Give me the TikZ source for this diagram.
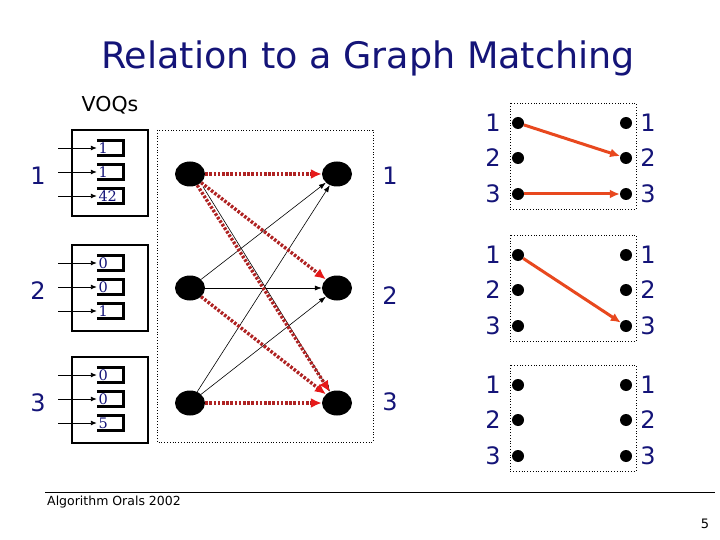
\documentclass[tikz,border=0pt]{standalone}
\usepackage{xcolor}
\usepackage{fontspec}
\setmainfont{DejaVu Sans}
\newfontfamily\qfont{DejaVu Serif}
\usepackage{tikz}
\usetikzlibrary{shapes,arrows,arrows.meta,positioning,calc,fit}
\definecolor{navy}{RGB}{20,20,120}
\definecolor{reqred}{RGB}{175,35,35}
\definecolor{tipred}{RGB}{230,25,25}
\definecolor{pickorange}{RGB}{232,72,30}

\begin{document}
\begin{tikzpicture}[x=1pt, y=-1pt,
    voq/.style={rectangle, draw, line width=2.6pt, minimum width=76pt, minimum height=86pt, inner sep=0pt},
    queue/.style={rectangle, minimum width=26pt, minimum height=15pt, inner sep=1.5pt, text width=23pt, align=left, text=navy, font=\qfont\fontsize{14.5}{14.5}\selectfont},
    qline/.style={line width=2.6pt},
    feed/.style={line width=0.9pt, -{Latex[length=6pt,width=5pt]}},
    port/.style={inner sep=0pt, text=navy, font=\fontsize{24}{24}\selectfont},
    vert/.style={ellipse, fill=black, minimum width=30pt, minimum height=25pt, inner sep=0pt},
    link/.style={line width=0.6pt, -{Latex[length=7pt,width=5pt]}},
    req/.style={reqred, line width=3.4pt, dash pattern=on 2.6pt off 1.6pt, -{Latex[length=11pt,width=10pt,color=tipred]}},
    dot/.style={circle, fill=black, minimum size=12pt, inner sep=0pt},
    pick/.style={pickorange, line width=3pt, -{Latex[length=10pt,width=9pt]}},
    frame/.style={dotted, line width=0.8pt}
]
    \useasboundingbox (0,0) rectangle (720,540);

    \node[text=navy, font=\fontsize{36.5}{36.5}\selectfont] (title) at (368,58) {Relation to a Graph Matching};
    \node[font=\fontsize{20.5}{20.5}\selectfont] (voqs) at (110,105) {VOQs};

    % input ports with their virtual output queues
    \foreach \i/\y/\a/\b/\c in {1/173/1/1/42, 2/288/0/0/1, 3/400/0/0/5} {
        \node[voq] (in\i) at (110,\y) {};
        \node[queue] (q\i1) at (110,\y-25) {\a};
        \node[queue] (q\i2) at (110,\y-1) {\b};
        \node[queue] (q\i3) at (110,\y+23) {\c};
        \node[port] (p\i) at (38,\y+3) {\i};
        \foreach \k in {1,2,3} {
            \draw[qline] (q\i\k.north west) -- (q\i\k.north east) -- (q\i\k.south east) -- (q\i\k.south west);
            \coordinate (a\i\k) at (58,\y-49+24*\k);
            \draw[feed] (a\i\k) -- (q\i\k.west |- a\i\k);
        }
    }

    % bipartite request graph
    \draw[frame] (157,130) rectangle (373,442);
    \node[vert] (l1) at (190,174) {};
    \node[vert] (l2) at (190,288) {};
    \node[vert] (l3) at (190,403) {};
    \node[vert] (r1) at (337,174) {};
    \node[vert] (r2) at (337,288) {};
    \node[vert] (r3) at (337,403) {};
    \node[port] (o1) at (390,176) {1};
    \node[port] (o2) at (390,296) {2};
    \node[port] (o3) at (390,402) {3};

    \draw[link] ([xshift=13pt]l1.south) -- (r3);
    \draw[link] (l2) -- (r1);
    \draw[link] (l2) -- (r2);
    \draw[link] (l3) -- (r1);
    \draw[link] (l3) -- (r2);
    \draw[req] (l1) -- (r1);
    \draw[req] (l1) -- (r2);
    \draw[req] (l1) -- (r3);
    \draw[req] (l2) -- (r3);
    \draw[req] (l3) -- (r3);

    % matchings
    \foreach \g/\t in {1/103, 2/235, 3/365} {
        \draw[frame] (510,\t) rectangle (636,\t+106);
        \foreach \k/\o in {1/20, 2/55, 3/91} {
            \node[dot] (g\g-l\k) at (518,\t+\o) {};
            \node[dot] (g\g-r\k) at (626,\t+\o) {};
            \node[port] (g\g-a\k) at (493,\t+\o) {\k};
            \node[port] (g\g-b\k) at (648,\t+\o) {\k};
        }
    }
    \draw[pick] (g1-l1) -- (g1-r2);
    \draw[pick] (g1-l3) -- (g1-r3);
    \draw[pick] (g2-l1) -- (g2-r3);

    % footer
    \draw[line width=0.8pt] (45,492) -- (715,492);
    \node[anchor=west, inner sep=0pt, font=\fontsize{12.5}{12.5}\selectfont] (foot) at (47,502) {Algorithm Orals 2002};
    \node[inner sep=0pt, font=\fontsize{13}{13}\selectfont] (page) at (705,524) {5};
\end{tikzpicture}
\end{document}
